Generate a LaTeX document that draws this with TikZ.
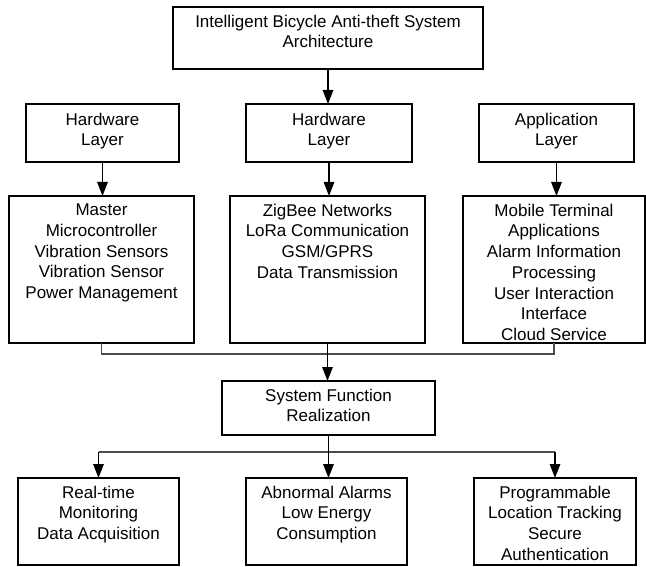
\documentclass[tikz,border=0pt]{standalone}
\usepackage{fontspec}
\setmainfont{Liberation Sans}
\usetikzlibrary{arrows.meta,calc}
\begin{document}
\begin{tikzpicture}[x=1pt,y=-1pt,
  box/.style={draw=black, line width=2pt, inner sep=0pt, outer sep=0pt},
  txt/.style={anchor=north, align=center, inner sep=0pt, font=\fontsize{17}{20.75}\selectfont},
  arr/.style={draw=black, line width=1.5pt, -{Triangle[length=14pt,width=10.5pt]}},
  link/.style={draw=black!70, line width=1.4pt}]
\useasboundingbox (0,0) rectangle (646,567);
% boxes
\node[box, minimum width=310pt, minimum height=62pt] (top) at (328,38) {};
\node[box, minimum width=153pt, minimum height=58pt] (hl1) at (102.5,133) {};
\node[box, minimum width=166pt, minimum height=58pt] (hl2) at (329,133) {};
\node[box, minimum width=155pt, minimum height=58pt] (hl3) at (556.5,133) {};
\node[box, minimum width=185pt, minimum height=147pt] (c1) at (101.5,269.5) {};
\node[box, minimum width=195pt, minimum height=147pt] (c2) at (327.5,269.5) {};
\node[box, minimum width=182pt, minimum height=147pt] (c3) at (554,269.5) {};
\node[box, minimum width=213pt, minimum height=54pt] (sf) at (328.5,408) {};
\node[box, minimum width=161pt, minimum height=87pt] (b1) at (98.5,521.5) {};
\node[box, minimum width=161pt, minimum height=87pt] (b2) at (326.5,521.5) {};
\node[box, minimum width=162pt, minimum height=87pt] (b3) at (555,521.5) {};
% texts
\node[txt] (ttop) at ($(top.north)+(0,7.7)$) {Intelligent Bicycle Anti-theft System\\Architecture};
\node[txt] (thl1) at ($(hl1.north)+(0,8.7)$) {Hardware\\Layer};
\node[txt] (thl2) at ($(hl2.north)+(0,8.7)$) {Hardware\\Layer};
\node[txt] (thl3) at ($(hl3.north)+(0,8.7)$) {Application\\Layer};
\node[txt] (tc1) at ($(c1.north)+(0,7.7)$) {Master\\Microcontroller\\Vibration Sensors\\Vibration Sensor\\Power Management};
\node[txt] (tc2) at ($(c2.north)+(0,7.7)$) {ZigBee Networks\\LoRa Communication\\GSM/GPRS\\Data Transmission};
\node[txt] (tc3) at ($(c3.north)+(0,7.7)$) {Mobile Terminal\\Applications\\Alarm Information\\Processing\\User Interaction\\Interface\\Cloud Service};
\node[txt] (tsf) at ($(sf.north)+(0,7.7)$) {System Function\\Realization};
\node[txt] (tb1) at ($(b1.north)+(0,7.7)$) {Real-time\\Monitoring\\Data Acquisition};
\node[txt] (tb2) at ($(b2.north)+(0,7.7)$) {Abnormal Alarms\\Low Energy\\Consumption};
\node[txt] (tb3) at ($(b3.north)+(0,7.7)$) {Programmable\\Location Tracking\\Secure\\Authentication};
% connectors
\draw[arr] (top.south) -- (top.south |- hl2.north);
\draw[arr] (hl1.south) -- (hl1.south |- c1.north);
\draw[arr] (hl2.south) -- (hl2.south |- c2.north);
\draw[arr] (hl3.south) -- (hl3.south |- c3.north);
\coordinate (jn) at ($(c1.south)+(0,11)$);
\draw[link] (c1.south) -- (jn) -- (jn -| c3.south) -- (c3.south);
\draw[arr] (c2.south) -- (c2.south |- sf.north);
\coordinate (bj) at ($(sf.south)+(0,17)$);
\draw[link] (bj -| b1.north) -- (bj -| b3.north);
\draw[arr] (sf.south) -- (sf.south |- b2.north);
\draw[arr] (bj -| b1.north) -- (b1.north);
\draw[arr] (bj -| b3.north) -- (b3.north);
\end{tikzpicture}
\end{document}
